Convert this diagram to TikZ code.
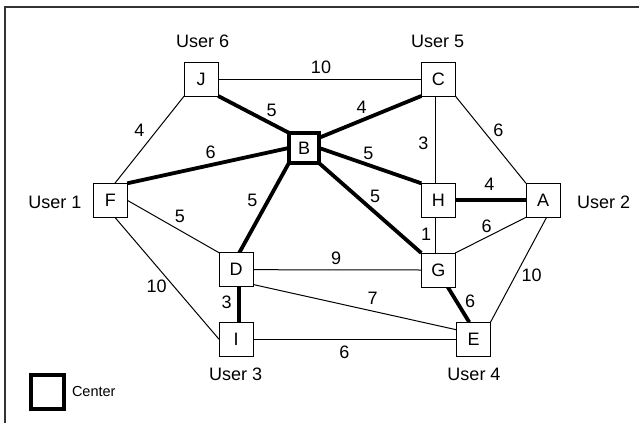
\documentclass[tikz,border=0pt]{standalone}
\usepackage{fontspec}
\setmainfont{Liberation Sans}
\begin{document}
\begin{tikzpicture}[x=1pt,y=-1pt,
  every node/.style={font=\fontsize{18}{21}\selectfont, inner sep=0pt, outer sep=0pt},
  station/.style={draw, line width=1pt, minimum size=34pt, fill=white},
  hub/.style={draw, line width=3.6pt, minimum size=30.5pt, fill=white},
  thin/.style={line width=1pt},
  heavy/.style={line width=3.8pt},
  wlabel/.style={},
  ulabel/.style={}]
\useasboundingbox (0,0) rectangle (639,423);
\draw[line width=1.3pt, black!80] (5,423) -- (5,7) -- (639,7);

% nodes
\node[station] (J) at (201.2,79) {J};
\node[station] (C) at (438.3,79) {C};
\node[hub]     (B) at (304,148) {B};
\node[station] (F) at (110.3,200.3) {F};
\node[station] (H) at (438.3,200.3) {H};
\node[station] (A) at (543,200.3) {A};
\node[station] (D) at (236,269.7) {D};
\node[station] (G) at (438.3,270) {G};
\node[station] (I) at (236,339.2) {I};
\node[station] (E) at (473.5,339.2) {E};

% thin links
\draw[thin] (J.east) -- (C.west);
\draw[thin] (J.south west) -- (F.75);
\draw[thin] (F.east) -- (D.north west);
\draw[thin] (F.-75) -- (I.west);
\draw[thin] (D.east) -- (G.west);
\draw[thin] (D.-41) -- (E.151);
\draw[thin] (I.east) -- (E.west);
\draw[thin] (H.-101) -- (G.101);
\draw[thin] (C.-101) -- (H.101);
\draw[thin] (C.south east) -- (A.north west);
\draw[thin] (G.north east) -- (A.south west);
\draw[thin] (A.-78) -- (E.north east);

% heavy links
\draw[heavy] (J.south east) -- (B.north west);
\draw[heavy] (F.north east) -- (B.west);
\draw[heavy] (B.34) -- (C.south west);
\draw[heavy] (B.east) -- (H.north west);
\draw[heavy] (B.south east) -- (G.north west);
\draw[heavy] (B.south west) -- (D.79);
\draw[heavy] (D.-79) -- (I.79);
\draw[heavy] (H.east) -- (A.west);
\draw[heavy] (G.-61) -- (E.104);

% redraw boxes on top
\node[station] at (J) {J};
\node[station] at (C) {C};
\node[hub]     at (B) {B};
\node[station] at (F) {F};
\node[station] at (H) {H};
\node[station] at (A) {A};
\node[station] at (D) {D};
\node[station] at (G) {G};
\node[station] at (I) {I};
\node[station] at (E) {E};

% weights
\node[wlabel] (wJC) at (321,67) {10};
\node[wlabel] (wJB) at (271.7,110) {5};
\node[wlabel] (wJF) at (139.3,130.7) {4};
\node[wlabel] (wFB) at (210.7,152.7) {6};
\node[wlabel] (wBC) at (361.7,107.3) {4};
\node[wlabel] (wCH) at (423.3,143.3) {3};
\node[wlabel] (wCA) at (498.3,130) {6};
\node[wlabel] (wBH) at (368.3,153.3) {5};
\node[wlabel] (wHA) at (489.3,184) {4};
\node[wlabel] (wBG) at (375,196.7) {5};
\node[wlabel] (wFD) at (180,216.5) {5};
\node[wlabel] (wBD) at (252.3,200) {5};
\node[wlabel] (wHG) at (426,234) {1};
\node[wlabel] (wGA) at (486.7,226) {6};
\node[wlabel] (wDG) at (336,258.7) {9};
\node[wlabel] (wDE) at (372.7,298.7) {7};
\node[wlabel] (wGE) at (470,301.3) {6};
\node[wlabel] (wAE) at (531.7,275.3) {10};
\node[wlabel] (wIE) at (344.3,352.7) {6};
\node[wlabel] (wFI) at (156.7,286) {10};
\node[wlabel] (wDI) at (226.7,302.7) {3};

% user labels
\node[ulabel] (u6) at (202.7,41) {User 6};
\node[ulabel] (u5) at (437.7,41) {User 5};
\node[ulabel] (u1) at (55,202) {User 1};
\node[ulabel] (u2) at (603.7,202) {User 2};
\node[ulabel] (u3) at (235.7,374.3) {User 3};
\node[ulabel] (u4) at (474,374.3) {User 4};

% legend
\node[draw, line width=4pt, minimum size=33.6pt] (leg) at (47.5,391.7) {};
\node[anchor=west, font=\fontsize{14.5}{17}\selectfont] (legt) at (72,392) {Center};
\end{tikzpicture}
\end{document}
